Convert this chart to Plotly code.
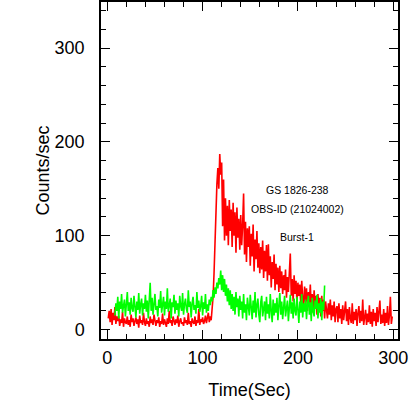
import plotly.graph_objects as go

# Burst-1 light curves, 1 s bins
red_time = list(range(1, 300))
red_counts = [
    12, 20, 8, 22, 5, 18, 10, 24, 6, 14,
    9, 15, 4, 11, 7, 19, 3, 12, 8, 6,
    14, 5, 10, 3, 16, 8, 12, 4, 9, 13,
    6, 11, 2, 15, 7, 10, 5, 18, 8, 4,
    12, 6, 9, 3, 14, 7, 11, 5, 16, 8,
    4, 10, 7, 13, 3, 9, 6, 17, 5, 11,
    8, 3, 12, 6, 20, 7, 10, 4, 14, 9,
    5, 11, 7, 15, 3, 9, 12, 6, 8, 4,
    13, 7, 10, 5, 18, 6, 9, 3, 12, 8,
    6, 14, 4, 10, 7, 22, 5, 11, 8, 13,
    6, 9, 15, 7, 12, 18, 8, 14, 10, 20,
    35, 60, 95, 130, 155, 172, 150, 187, 165, 178,
    110, 160, 95, 140, 100, 132, 90, 138, 105, 128,
    88, 135, 100, 125, 82, 130, 98, 118, 85, 122,
    90, 112, 145, 80, 115, 72, 108, 88, 110, 68,
    102, 78, 112, 62, 96, 75, 105, 66, 92, 60,
    88, 64, 95, 55, 84, 62, 90, 52, 91, 58,
    78, 45, 72, 54, 80, 42, 70, 48, 66, 40,
    68, 44, 62, 38, 58, 42, 64, 34, 56, 40,
    60, 81, 36, 54, 30, 58, 38, 52, 28, 50,
    36, 48, 26, 52, 34, 22, 46, 30, 44, 20,
    40, 28, 48, 22, 38, 18, 42, 24, 36, 16,
    38, 22, 34, 14, 36, 20, 32, 12, 30, 18,
    12, 28, 16, 32, 10, 26, 14, 30, 8, 22,
    25, 8, 28, 12, 22, 6, 26, 10, 20, 30,
    9, 22, 5, 24, 12, 7, 28, 6, 19, 10,
    22, 4, 18, 25, 7, 20, 9, 32, 5, 16,
    21, 5, 17, 8, 26, 6, 19, 3, 22, 9,
    18, 4, 24, 8, 20, 31, 6, 16, 7, 22,
    4, 18, 7, 25, 5, 15, 35, 6, 14,
]

green_time = list(range(8, 229))
green_counts = [
    15, 28, 20, 35, 12, 30, 22, 38, 18, 26,
    32, 14, 25, 40, 20, 29, 16, 34, 23, 19,
    36, 24, 13, 30, 21, 39, 17, 27, 33, 15,
    28, 22, 37, 19, 31, 12, 26, 50, 20, 34,
    16, 29, 38, 21, 25, 14, 32, 23, 41, 18,
    27, 35, 15, 30, 22, 44, 19, 26, 33, 12,
    29, 24, 37, 17, 31, 21, 28, 14, 36, 25,
    20, 39, 16, 27, 33, 22, 18, 42, 24, 30,
    13, 28, 35, 21, 26, 17, 40, 23, 31, 19,
    25, 36, 15, 29, 22, 38, 18, 27, 20, 32,
    26, 35, 30, 42, 34, 45, 38, 50, 44, 55,
    48, 63, 42, 58, 40, 54, 36, 48, 30, 44,
    26, 42, 22, 38, 20, 35, 16, 40, 24, 33,
    14, 36, 21, 30, 12, 38, 18, 27, 10, 34,
    20, 15, 37, 24, 11, 31, 18, 40, 13, 26,
    33, 16, 8, 29, 36, 14, 25, 30, 10, 35,
    17, 27, 12, 38, 20, 8, 32, 15, 28, 18,
    34, 10, 26, 39, 16, 30, 11, 28, 36, 14,
    25, 31, 9, 27, 37, 17, 29, 12, 33, 20,
    15, 35, 22, 7, 30, 18, 38, 13, 28, 19,
    32, 11, 27, 36, 16, 29, 9, 34, 20, 14,
    31, 22, 37, 12, 28, 18, 33, 10, 30, 21, 47,
]

labels = ["GS 1826-238", "OBS-ID (21024002)", "Burst-1"]
label_x = [200, 199.5, 199]
label_y = [149, 129, 99]

FONT = "Liberation Sans, Arial, sans-serif"

fig = go.Figure()
fig.add_trace(go.Scatter(x=red_time, y=red_counts, mode="lines",
                         line=dict(color="#ff0000", width=1.6)))
fig.add_trace(go.Scatter(x=green_time, y=green_counts, mode="lines",
                         line=dict(color="#00ff00", width=1.6)))

for txt, lx, ly in zip(labels, label_x, label_y):
    fig.add_annotation(x=lx, y=ly, text=txt, showarrow=False,
                       font=dict(size=10.5, color="black", family=FONT))

axis_common = dict(
    showline=True, linecolor="black", linewidth=1.5, mirror="ticks",
    ticks="inside", ticklen=9, tickwidth=1.2, tickcolor="black",
    showgrid=False, zeroline=False, automargin=False,
    tickfont=dict(size=18, color="black", family=FONT),
)

fig.update_layout(
    width=415, height=415,
    margin=dict(l=101, r=17, t=2, b=76),
    paper_bgcolor="white", plot_bgcolor="white",
    showlegend=False,
    xaxis=dict(range=[-6.6, 305], dtick=100, tick0=0,
               minor=dict(dtick=20, ticks="inside", ticklen=5, tickcolor="black", tickwidth=1.2),
               title=dict(text="Time(Sec)", font=dict(size=18, color="black", family=FONT), standoff=16),
               ticklabelstandoff=2,
               **axis_common),
    yaxis=dict(range=[-10, 349], dtick=100, tick0=0,
               minor=dict(dtick=20, ticks="inside", ticklen=5, tickcolor="black", tickwidth=1.2),
               title=dict(text="Counts/sec", font=dict(size=18, color="black", family=FONT), standoff=0),
               ticklabelstandoff=11,
               **axis_common),
)

# drop the default page margin so the figure sits at the window origin
fig.write_html("out.html", config={"displayModeBar": False},
               post_script="document.body.style.margin='0';")
